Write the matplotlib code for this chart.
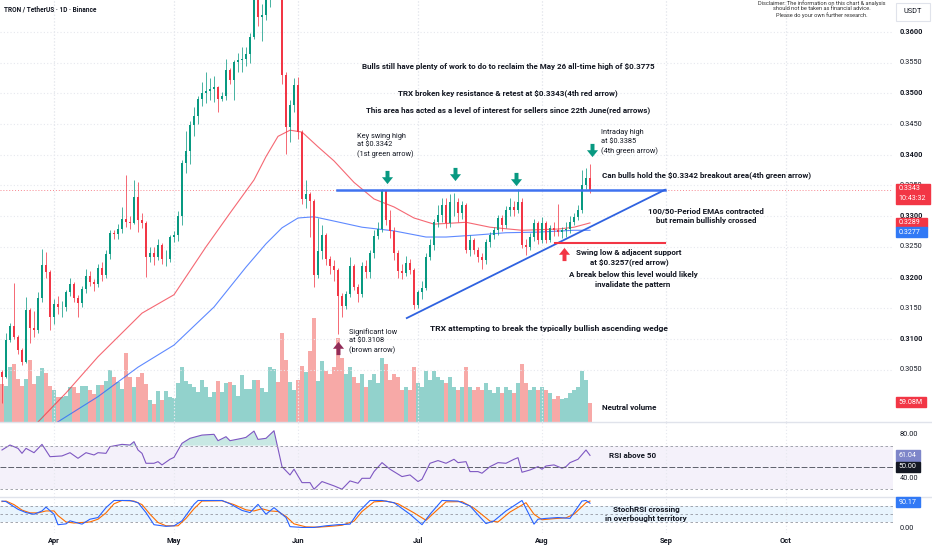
import numpy as np
import matplotlib.pyplot as plt
import matplotlib.transforms as mtransforms
from matplotlib.path import Path
from matplotlib.patches import Rectangle

plt.rcParams['font.family'] = ['Roboto', 'DejaVu Sans']

W, H = 932, 550

# ====================== DATA (x = days since 1 April) ======================
first_day = -13
first_open = 0.3046

close = [
    0.3038, 0.3098, 0.3121, 0.3103, 0.3082, 0.3062, 0.3147, 0.3118, 0.3115, 0.3167,
    0.3220, 0.3209, 0.3136, 0.3157, 0.3152, 0.3152, 0.3176, 0.3189, 0.3167, 0.3159,
    0.3181, 0.3202, 0.3193, 0.3189, 0.3216, 0.3204, 0.3238, 0.3273, 0.3271, 0.3279,
    0.3295, 0.3290, 0.3289, 0.3331, 0.3294, 0.3289, 0.3233, 0.3240, 0.3233, 0.3253,
    0.3230, 0.3230, 0.3266, 0.3269, 0.3300, 0.3386, 0.3406, 0.3449, 0.3463, 0.3491,
    0.3501, 0.3504, 0.3507, 0.3510, 0.3491, 0.3496, 0.3538, 0.3522, 0.3551, 0.3554,
    0.3556, 0.3564, 0.3592, 0.3665, 0.3624, 0.3628, 0.3662, 0.3700, 0.3740, 0.3690,
    0.3530, 0.3445, 0.3481, 0.3513, 0.3437, 0.3328, 0.3336, 0.3325, 0.3204, 0.3243,
    0.3269, 0.3230, 0.3219, 0.3212, 0.3170, 0.3154, 0.3173, 0.3219, 0.3185, 0.3173,
    0.3219, 0.3209, 0.3240, 0.3268, 0.3279, 0.3342, 0.3294, 0.3276, 0.3240, 0.3211,
    0.3207, 0.3224, 0.3212, 0.3155, 0.3176, 0.3183, 0.3233, 0.3253, 0.3290, 0.3302,
    0.3318, 0.3289, 0.3323, 0.3323, 0.3305, 0.3318, 0.3245, 0.3261, 0.3245, 0.3233,
    0.3229, 0.3258, 0.3269, 0.3277, 0.3297, 0.3285, 0.3310, 0.3315, 0.3310, 0.3323,
    0.3253, 0.3250, 0.3266, 0.3289, 0.3261, 0.3289, 0.3261, 0.3281, 0.3277, 0.3274,
    0.3277, 0.3279, 0.3290, 0.3299, 0.3310, 0.3351, 0.3362, 0.3343,
]
high = [
    0.3049, 0.3110, 0.3126, 0.3191, 0.3106, 0.3085, 0.3168, 0.3150, 0.3145, 0.3176,
    0.3247, 0.3242, 0.3212, 0.3165, 0.3170, 0.3162, 0.3180, 0.3200, 0.3192, 0.3172,
    0.3186, 0.3214, 0.3210, 0.3198, 0.3222, 0.3225, 0.3245, 0.3277, 0.3278, 0.3288,
    0.3315, 0.3367, 0.3300, 0.3359, 0.3356, 0.3305, 0.3292, 0.3250, 0.3250, 0.3263,
    0.3256, 0.3245, 0.3270, 0.3276, 0.3308, 0.3392, 0.3438, 0.3455, 0.3478, 0.3495,
    0.3518, 0.3535, 0.3525, 0.3528, 0.3512, 0.3503, 0.3556, 0.3542, 0.3555, 0.3565,
    0.3576, 0.3575, 0.3598, 0.3685, 0.3690, 0.3645, 0.3680, 0.3730, 0.3775, 0.3750,
    0.3700, 0.3535, 0.3490, 0.3525, 0.3527, 0.3440, 0.3359, 0.3340, 0.3328, 0.3297,
    0.3285, 0.3272, 0.3235, 0.3228, 0.3215, 0.3175, 0.3178, 0.3233, 0.3222, 0.3190,
    0.3225, 0.3228, 0.3245, 0.3278, 0.3290, 0.3345, 0.3342, 0.3310, 0.3282, 0.3245,
    0.3222, 0.3235, 0.3230, 0.3215, 0.3180, 0.3195, 0.3240, 0.3262, 0.3295, 0.3318,
    0.3330, 0.3330, 0.3336, 0.3338, 0.3330, 0.3325, 0.3322, 0.3270, 0.3265, 0.3250,
    0.3240, 0.3262, 0.3275, 0.3282, 0.3302, 0.3302, 0.3316, 0.3330, 0.3325, 0.3345,
    0.3330, 0.3262, 0.3272, 0.3295, 0.3292, 0.3298, 0.3292, 0.3285, 0.3290, 0.3320,
    0.3282, 0.3290, 0.3300, 0.3305, 0.3318, 0.3375, 0.3378, 0.3385,
]
low = [
    0.2996, 0.3036, 0.3095, 0.3100, 0.3075, 0.3058, 0.3060, 0.3093, 0.3103, 0.3110,
    0.3160, 0.3200, 0.3115, 0.3125, 0.3140, 0.3136, 0.3145, 0.3170, 0.3160, 0.3136,
    0.3152, 0.3175, 0.3186, 0.3178, 0.3185, 0.3195, 0.3200, 0.3230, 0.3262, 0.3262,
    0.3272, 0.3282, 0.3279, 0.3287, 0.3274, 0.3280, 0.3201, 0.3225, 0.3220, 0.3228,
    0.3222, 0.3218, 0.3226, 0.3258, 0.3260, 0.3285, 0.3370, 0.3385, 0.3430, 0.3450,
    0.3480, 0.3485, 0.3490, 0.3486, 0.3470, 0.3488, 0.3490, 0.3515, 0.3489, 0.3535,
    0.3535, 0.3545, 0.3550, 0.3588, 0.3610, 0.3586, 0.3620, 0.3641, 0.3690, 0.3670,
    0.3515, 0.3402, 0.3420, 0.3470, 0.3425, 0.3320, 0.3313, 0.3266, 0.3185, 0.3200,
    0.3230, 0.3220, 0.3205, 0.3195, 0.3108, 0.3136, 0.3148, 0.3168, 0.3180, 0.3160,
    0.3168, 0.3200, 0.3200, 0.3232, 0.3262, 0.3275, 0.3285, 0.3265, 0.3228, 0.3200,
    0.3198, 0.3203, 0.3205, 0.3148, 0.3150, 0.3165, 0.3180, 0.3228, 0.3245, 0.3282,
    0.3290, 0.3280, 0.3282, 0.3300, 0.3290, 0.3295, 0.3240, 0.3235, 0.3238, 0.3225,
    0.3214, 0.3222, 0.3250, 0.3262, 0.3270, 0.3276, 0.3280, 0.3300, 0.3300, 0.3305,
    0.3248, 0.3236, 0.3245, 0.3260, 0.3255, 0.3257, 0.3257, 0.3258, 0.3268, 0.3268,
    0.3265, 0.3266, 0.3272, 0.3285, 0.3293, 0.3305, 0.3345, 0.3338,
]
# volume, millions USDT
volume = [
    118, 113, 170, 180, 134, 113, 134, 193, 118, 144,
    167, 151, 113, 100, 79, 79, 82, 110, 108, 90,
    113, 113, 98, 88, 116, 116, 129, 162, 139, 124,
    103, 213, 139, 108, 139, 151, 118, 67, 55, 96,
    69, 95, 77, 75, 121, 172, 129, 118, 108, 93,
    131, 110, 77, 93, 129, 93, 121, 124, 115, 82,
    147, 103, 103, 131, 131, 106, 93, 172, 165, 124,
    278, 194, 124, 98, 132, 175, 155, 221, 324, 129,
    190, 160, 150, 170, 260, 200, 150, 170, 140, 120,
    150, 110, 130, 150, 120, 200, 180, 130, 150, 140,
    100, 110, 100, 170, 120, 110, 160, 130, 160, 140,
    130, 120, 140, 110, 100, 110, 170, 110, 100, 110,
    100, 120, 100, 90, 110, 90, 110, 100, 90, 120,
    180, 120, 100, 110, 100, 110, 100, 90, 70, 80,
    70, 75, 90, 100, 110, 160, 130, 59.08,
]

ema50_days = [-5, 3, 11, 22, 30, 38, 44, 50, 53, 56, 59, 62, 66, 70, 75, 80,
              85, 90, 95, 103, 109, 117, 126, 130, 134]
ema50 = [0.2958, 0.3012, 0.3071, 0.3142, 0.3172, 0.3250, 0.3305, 0.3359, 0.3397,
         0.3430, 0.3440, 0.3437, 0.3413, 0.3390, 0.3355, 0.3328, 0.3315, 0.3297,
         0.3287, 0.3290, 0.3282, 0.3277, 0.3279, 0.3282, 0.3289]
ema100_days = [0, 11, 21, 30, 40, 48, 53, 57, 61, 65, 70, 77, 85, 93, 98, 105,
               113, 121, 130, 134]
ema100 = [0.2961, 0.3006, 0.3054, 0.3090, 0.3152, 0.3217, 0.3255, 0.3281, 0.3297,
          0.3299, 0.3292, 0.3282, 0.3276, 0.3266, 0.3266, 0.3269, 0.3273, 0.3274,
          0.3277, 0.3277]

rsi_days = [-13, -11, -9, -8, -7, -5, -3, -1, 2, 4, 6, 8, 10, 11, 13, 14, 17, 19,
            20, 21, 22, 23, 25, 26, 27, 29, 30, 32, 34, 37, 40, 41, 43, 44, 47, 48,
            50, 51, 53, 55, 57, 59, 60, 62, 64, 65, 67, 70, 72, 74, 76, 77, 79, 80,
            82, 84, 87, 89, 91, 92, 94, 96, 98, 100, 101, 103, 104, 106, 107, 109,
            111, 113, 115, 116, 117, 119, 121, 122, 123, 125, 127, 128, 129, 131,
            133, 134]
rsi_vals = [66.0, 70.6, 67.5, 62.9, 67.5, 63.5, 71.2, 59.8, 60.5, 63.5, 58.3, 63.5,
            61.4, 63.5, 62.9, 69.1, 71.2, 70.6, 73.7, 66.0, 62.9, 53.7, 53.7, 55.2,
            52.2, 57.4, 59.2, 72.2, 76.8, 79.8, 80.5, 74.6, 78.3, 74.6, 76.8, 77.7,
            83.5, 75.8, 76.8, 83.8, 50.6, 42.9, 48.2, 35.8, 35.8, 29.7, 36.8, 32.8,
            29.7, 37.4, 35.2, 39.8, 39.8, 46.0, 54.3, 48.2, 41.4, 42.9, 36.8, 38.9,
            53.7, 56.2, 53.7, 57.4, 54.3, 55.2, 46.0, 46.0, 44.5, 50.6, 54.3, 53.7,
            57.4, 58.9, 45.4, 47.5, 50.6, 48.2, 51.2, 52.2, 49.1, 50.6, 54.3, 57.4,
            66.0, 61.04]

k_days = [-13, -12, -9, -7, -5, -3, -2, 0, 1, 3, 4, 7, 9, 11, 13, 15, 19, 21, 23,
          25, 28, 30, 32, 35, 36, 42, 44, 47, 49, 51, 53, 55, 58, 59, 62, 65, 68,
          71, 74, 76, 79, 82, 85, 89, 92, 94, 97, 101, 104, 108, 110, 113, 117,
          120, 121, 123, 126, 129, 132, 133, 134]
k_vals = [98, 96, 68, 56, 50, 62, 76, 50, 12, 15, 26, 14, 32, 38, 74, 100, 100, 92,
          56, 12, 6, 8, 26, 86, 100, 100, 88, 64, 56, 86, 50, 74, 38, 5, 2, 2, 8,
          12, 14, 56, 100, 100, 92, 50, 12, 50, 100, 98, 80, 16, 26, 62, 100, 14,
          32, 35, 38, 35, 98, 100, 90.17]
d_days = [-13, -12, -10, -8, -6, -4, -2, 0, 1, 3, 5, 7, 9, 11, 13, 15, 17, 20, 22,
          24, 26, 28, 31, 33, 35, 37, 42, 45, 48, 50, 52, 54, 56, 58, 60, 63, 66,
          69, 72, 75, 77, 80, 83, 86, 90, 93, 95, 98, 102, 105, 109, 111, 114, 118,
          120, 122, 125, 128, 130, 133, 134]
d_vals = [96, 98, 85, 65, 55, 55, 62, 62, 45, 22, 18, 20, 22, 32, 55, 88, 100, 98,
          85, 50, 20, 8, 8, 35, 70, 98, 99, 85, 66, 62, 70, 62, 60, 42, 15, 4, 3,
          6, 10, 25, 60, 95, 98, 88, 55, 28, 55, 95, 96, 72, 25, 22, 58, 92, 50,
          30, 34, 37, 50, 92, 98]

month_days = [0, 30, 61, 91, 122, 153, 183]
month_labels = ["Apr", "May", "Jun", "Jul", "Aug", "Sep", "Oct"]
price_ticks = [0.3050, 0.3100, 0.3150, 0.3200, 0.3250, 0.3300, 0.3350,
               0.3400, 0.3450, 0.3500, 0.3550, 0.3600]

resistance = 0.3342
support = 0.3257
wedge_days = [88.2, 152.75]
wedge_prices = [0.3134, 0.3343]

green_arrow_days = [83.3, 100.3, 115.4, 134.4]
green_arrow_prices = [0.3364, 0.3368, 0.3360, 0.3407]

# ====================== STYLE ======================
GREEN, RED, BLUE = "#089981", "#F23645", "#2962FF"
VOL_UP, VOL_DN = "#92D2CC", "#F7A9A7"
TXT = "#131722"
GRID = "#E6E8EE"
BOLD = 5.8      # bold notes
REG = 5.3       # plain notes
SCALE = 5.3     # price scale


def box(x0, y0, x1, y1):
    return [x0 / W, 1 - y1 / H, (x1 - x0) / W, (y1 - y0) / H]


def txt(x, y, s, ha="left", size=BOLD, weight="bold", color=TXT, z=3):
    fig.text(x / W, 1 - y / H, s, ha=ha, va="center", fontsize=size,
             fontweight=weight, color=color, zorder=z)


def tag(y0, y1, x1, lines, bg, fg="white"):
    fig.patches.append(Rectangle((896 / W, 1 - y1 / H), (x1 - 896) / W, (y1 - y0) / H,
                                 transform=fig.transFigure, color=bg, zorder=5))
    step = (y1 - y0) / len(lines)
    for i, s in enumerate(lines):
        fig.text(898.5 / W, 1 - (y0 + step * (i + 0.5)) / H, s, ha="left", va="center",
                 fontsize=5.1, color=fg, zorder=6)


def arrow_marker(up=False):
    s = -1 if up else 1
    v = [(-0.15, 0.5), (0.15, 0.5), (0.15, 0.02), (0.42, 0.02), (0.0, -0.5),
         (-0.42, 0.02), (-0.15, 0.02), (-0.15, 0.5)]
    return Path([(x, s * y) for x, y in v], closed=True)


fig = plt.figure(figsize=(W / 100, H / 100), dpi=100)
fig.patch.set_facecolor("white")

axv = fig.add_axes(box(0, 0, 893, 422))
ax = fig.add_axes(box(0, 0, 893, 422), sharex=axv)
ax_rsi = fig.add_axes(box(0, 422, 893, 497), sharex=axv)
ax_st = fig.add_axes(box(0, 497, 893, 533), sharex=axv)
ax.patch.set_visible(False)

for a in (axv, ax, ax_rsi, ax_st):
    for sp in a.spines.values():
        sp.set_visible(False)
    a.tick_params(length=0, labelbottom=False, labelleft=False)
    a.set_xticks(month_days)

axv.set_xlim(-13.5, 209.75)
ax.set_ylim(0.29647, 0.36521)
axv.set_ylim(0, 1312)
ax_rsi.set_ylim(22.5, 91.9)
ax_st.set_ylim(-18.2, 112.7)
axv.set_yticks([])
ax_rsi.set_yticks([])
ax_st.set_yticks([])

ax.set_yticks(price_ticks)
ax.grid(True, color=GRID, linestyle=(0, (1, 2)), linewidth=0.8)
for a in (axv, ax_rsi, ax_st):
    a.grid(True, axis="x", color=GRID, linestyle=(0, (1, 2)), linewidth=0.8)

# ---- candles + volume ----
days = np.arange(first_day, first_day + len(close))
c = np.array(close)
o = np.concatenate([[first_open], c[:-1]])
up = c >= o
cols = np.where(up, GREEN, RED)

axv.bar(days, volume, width=0.8, color=np.where(up, VOL_UP, VOL_DN), linewidth=0)
ax.vlines(days, low, high, colors=cols, linewidth=0.7, alpha=0.75, zorder=3)
ax.bar(days, np.maximum(np.abs(c - o), 0.00008), bottom=np.minimum(o, c),
       width=0.62, color=cols, linewidth=0, zorder=4)

ax.plot(ema50_days, ema50, color=RED, linewidth=0.8, alpha=0.75, zorder=2)
ax.plot(ema100_days, ema100, color=BLUE, linewidth=0.8, alpha=0.75, zorder=2)
ax.axhline(close[-1], color=RED, linewidth=0.7, linestyle=(0, (1, 2)), alpha=0.6)

# ---- drawings ----
ax.plot([70.75, 152.75], [resistance, resistance], color="#3F72F0", linewidth=1.8, zorder=5)
ax.plot(wedge_days, wedge_prices, color="#2F62E0", linewidth=1.3, zorder=5)
ax.plot([125.25, 152.75], [support, support], color=RED, linewidth=1.5, zorder=5)

ax.plot(green_arrow_days, green_arrow_prices, linestyle="none", marker=arrow_marker(),
        markersize=9.5, color=GREEN, markeredgewidth=0, zorder=6)
ax.plot([127.5], [0.3239], linestyle="none", marker=arrow_marker(up=True),
        markersize=9.5, color=RED, markeredgewidth=0, zorder=6)
ax.plot([71.1], [0.3086], linestyle="none", marker=arrow_marker(up=True),
        markersize=9.5, color="#922C58", markeredgewidth=0, zorder=6)

# ---- price scale ----
ytrans = ax.get_yaxis_transform()
for p in price_ticks:
    ax.text(900 / 893, p, f"{p:.4f}", transform=ytrans, ha="left", va="center",
            fontsize=SCALE, color=TXT,
            fontweight="bold" if round(p * 1000) % 10 == 0 else "normal",
            clip_on=False, zorder=1)

# ---- RSI ----
ax_rsi.axhspan(30, 70, color="#7E57C2", alpha=0.08, linewidth=0)
ax_rsi.plot(rsi_days, rsi_vals, color="#7E57C2", linewidth=0.8)
rsi_arr = np.array(rsi_vals)
ax_rsi.fill_between(rsi_days, rsi_arr, 70, where=rsi_arr > 70, interpolate=True,
                    color=GREEN, alpha=0.22, linewidth=0)
ax_rsi.fill_between(rsi_days, rsi_arr, 30, where=rsi_arr < 30, interpolate=True,
                    color=RED, alpha=0.22, linewidth=0)
for lv in (70, 30):
    ax_rsi.axhline(lv, color="#9598A1", linewidth=0.6, linestyle=(0, (3, 3)))
ax_rsi.axhline(50, color="#5D606B", linewidth=0.7, linestyle=(0, (6, 2)))

# ---- Stoch RSI ----
ax_st.axhspan(20, 80, color="#2196F3", alpha=0.1, linewidth=0)
for lv in (80, 50, 20):
    ax_st.axhline(lv, color="#9598A1", linewidth=0.6, linestyle=(0, (3, 3)))
ax_st.plot(d_days, d_vals, color="#FF6D00", linewidth=0.8)
ax_st.plot(k_days, k_vals, color=BLUE, linewidth=0.8)

# ---- pane separators ----
for yy in (422, 497):
    fig.add_artist(plt.Line2D([0, 1], [1 - yy / H, 1 - yy / H], color="#E0E3EB",
                              linewidth=1.0, transform=fig.transFigure))

# ---- time axis ----
xtrans = mtransforms.blended_transform_factory(axv.transData, fig.transFigure)
for dd, lab in zip(month_days, month_labels):
    fig.text(dd, 1 - 541 / H, lab, transform=xtrans, ha="center", va="center",
             fontsize=5.4, fontweight="bold", color=TXT)

# ---- right scale tags ----
tag(184, 204, 930, ["0.3343", "10:43:32"], RED)
tag(217.5, 227, 927, ["0.3289"], RED)
tag(227, 237, 927, ["0.3277"], "#3179F5")
tag(397, 407, 926, ["59.08M"], RED)
tag(450, 461, 920, ["61.04"], "#7E86C9")
tag(462, 472, 920, ["50.00"], "#131722")
tag(497, 507, 920, ["90.17"], "#3179F5")
for lab, yy in (("80.00", 435), ("40.00", 478), ("0.00", 528)):
    txt(900, yy, lab, size=SCALE, weight="normal")

fig.patches.append(Rectangle((896 / W, 1 - 21 / H), 34 / W, 18 / H, transform=fig.transFigure,
                             facecolor="white", edgecolor="#E0E3EB", linewidth=0.8))
txt(913, 11.5, "USDT", ha="center", size=SCALE, weight="normal")

# ---- texts ----
txt(4, 10, "TRON / TetherUS · 1D · Binance", size=4.7)
txt(822, 2.8, "Disclaimer: The information on this chart & analysis", ha="center", size=4.1, weight="normal", color="#333333")
txt(822, 8.8, "should not be taken as financial advice.", ha="center", size=4.1, weight="normal", color="#333333")
txt(822, 14.8, "Please do your own further research.", ha="center", size=4.1, weight="normal", color="#333333")

txt(508, 66, "Bulls still have plenty of work to do to reclaim the May 26 all-time high of $0.3775", ha="center")
txt(508, 93, "TRX broken key resistance & retest at $0.3343(4th red arrow)", ha="center")
txt(508, 110, "This area has acted as a level of interest for sellers since 22th June(red arrows)", ha="center")

for i, s in enumerate(["Key swing high", "at $0.3342", "(1st green arrow)"]):
    txt(357, 136 + 9 * i, s, size=REG, weight="normal")
for i, s in enumerate(["Intraday high", "at $0.3385", "(4th green arrow)"]):
    txt(601, 133 + 9 * i, s, size=REG, weight="normal")
for i, s in enumerate(["Significant low", "at $0.3108", "(brown arrow)"]):
    txt(349, 332 + 9 * i, s, size=REG, weight="normal")

txt(602, 175, "Can bulls hold the $0.3342 breakout area(4th green arrow)")
txt(706, 211, "100/50-Period EMAs contracted", ha="center")
txt(706, 221, "but remain bullishly crossed", ha="center")
txt(629, 252.5, "Swing low & adjacent support", ha="center")
txt(629, 262, "at $0.3257(red arrow)", ha="center")
txt(633, 275, "A break below this level would likely", ha="center")
txt(633, 285, "invalidate the pattern", ha="center")
txt(430, 328, "TRX attempting to break the typically bullish ascending wedge", size=6.1)
txt(602, 408, "Neutral volume")
txt(609, 455, "RSI above 50")
txt(646, 509.5, "StochRSI crossing", ha="center", size=5.9)
txt(646, 518.5, "in overbought territory", ha="center", size=5.9)

fig.savefig("out.png", dpi=100)
